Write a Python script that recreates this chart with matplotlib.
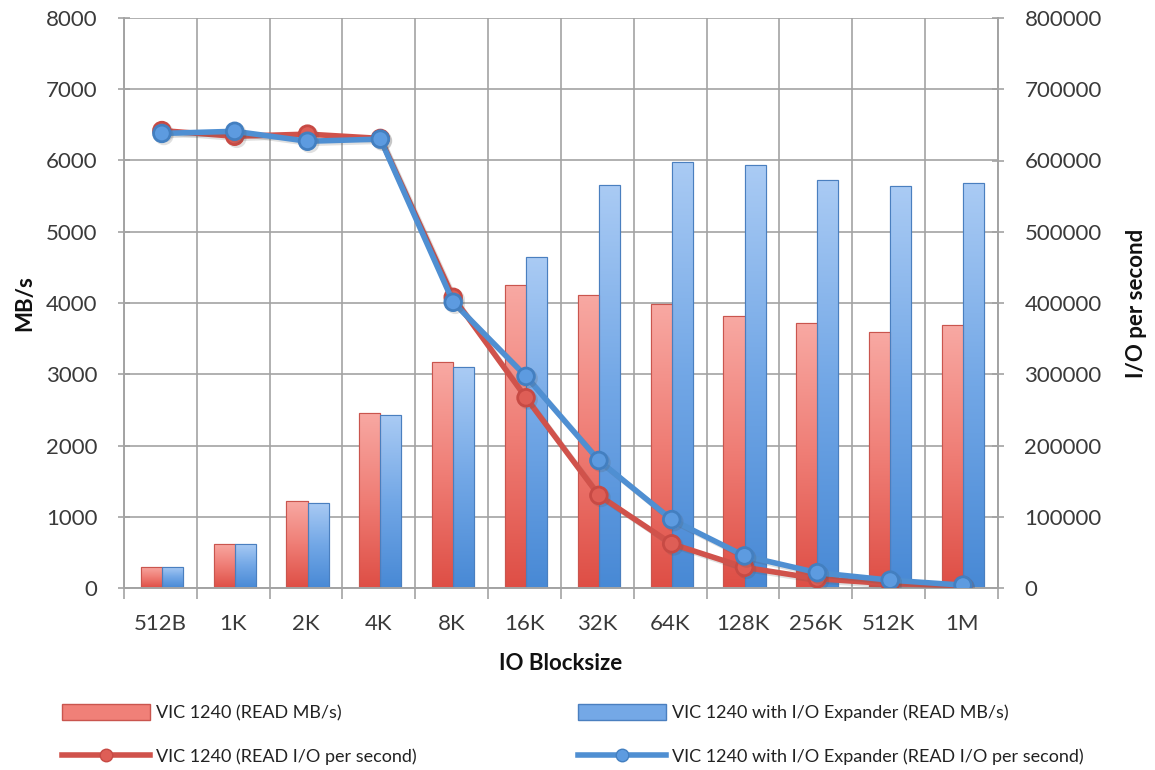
import numpy as np
import matplotlib
matplotlib.use("Agg")
import matplotlib.pyplot as plt
from matplotlib.colors import LinearSegmentedColormap
from matplotlib.lines import Line2D
from matplotlib.patches import Patch
import matplotlib.patheffects as pe

plt.rcParams['font.family'] = ['Lato', 'DejaVu Sans']

categories = ["512B", "1K", "2K", "4K", "8K", "16K", "32K", "64K", "128K", "256K", "512K", "1M"]
vic_mbs = [300, 620, 1220, 2460, 3170, 4250, 4115, 3990, 3820, 3725, 3590, 3685]
exp_mbs = [300, 620, 1200, 2435, 3095, 4645, 5660, 5985, 5935, 5730, 5640, 5680]
vic_iops = [642000, 634000, 637000, 631000, 408000, 267000, 130000, 62000, 29000, 13000, 6000, 3500]
exp_iops = [638000, 641000, 627000, 630000, 401000, 297000, 179000, 96000, 45000, 21500, 11000, 4000]

left_ticks = list(range(0, 8001, 1000))
right_ticks = list(range(0, 800001, 100000))

labels = ["VIC 1240 (READ MB/s)", "VIC 1240 with I/O Expander (READ MB/s)",
          "VIC 1240 (READ I/O per second)", "VIC 1240 with I/O Expander (READ I/O per second)"]

W, H = 1155, 770
fig = plt.figure(figsize=(W / 100, H / 100), dpi=100)
ax = fig.add_axes([124 / W, 1 - 588 / H, 874 / W, 570 / H])
ax2 = ax.twinx()

x = np.arange(len(categories))
bw = 0.29
grid_c = '#a3a3a3'
txt_c = '#3a3a3a'

red_cmap = LinearSegmentedColormap.from_list('r', ['#de4e45', '#ef7d75', '#f8a9a3'])
blue_cmap = LinearSegmentedColormap.from_list('b', ['#4889d5', '#72a7e6', '#aacbf4'])

bars_r = ax.bar(x - bw / 2 + 0.02, vic_mbs, bw, color='#ee7a72', edgecolor='#c9554e', linewidth=0.8, zorder=2)
bars_b = ax.bar(x + bw / 2 + 0.02, exp_mbs, bw, color='#6fa5e4', edgecolor='#4a7fbf', linewidth=0.8, zorder=2)

grad = np.linspace(0, 1, 256).reshape(-1, 1)
for bars, cmap in ((bars_r, red_cmap), (bars_b, blue_cmap)):
    for p in bars:
        x0, y0 = p.get_x(), p.get_y()
        w, h = p.get_width(), p.get_height()
        im = ax.imshow(grad, cmap=cmap, origin='lower', aspect='auto',
                       extent=(x0, x0 + w, y0, y0 + h), zorder=2.1)
        im.set_clip_path(p)
        ax.add_patch(plt.Rectangle((x0, y0), w, h, fill=False,
                                   edgecolor=p.get_edgecolor(), linewidth=0.8, zorder=2.2))

ax.set_xlim(-0.5, len(categories) - 0.5)
ax.set_ylim(0, 8000)
ax.set_yticks(left_ticks)
ax.set_yticklabels([str(v) for v in left_ticks])
ax.set_xticks(x)
ax.set_xticklabels(categories)
ax.set_xticks(np.arange(-0.5, len(categories), 1.0), minor=True)
ax.tick_params(axis='x', which='major', length=0, pad=19, labelsize=16, labelcolor=txt_c)
ax.tick_params(axis='x', which='minor', length=8, color=grid_c, width=1.2, direction='out')
ax.tick_params(axis='y', length=8, direction='inout', color=grid_c, width=1.2, pad=15,
               labelsize=16, labelcolor=txt_c)
ax.set_axisbelow(True)
ax.grid(True, axis='y', color=grid_c, linewidth=1.2, zorder=0)
ax.grid(True, axis='x', which='minor', color=grid_c, linewidth=1.2, zorder=0)
for s in ax.spines.values():
    s.set_color(grid_c)
    s.set_linewidth(1.2)
ax.spines['top'].set_visible(False)

ax.set_ylabel("MB/s", fontsize=16, fontweight='bold', color='#111111', ha='center', va='center')
ax.yaxis.set_label_coords(-0.113, 0.5)
ax.set_xlabel("IO Blocksize", fontsize=16, fontweight='bold', color='#111111', ha='center', va='center')
ax.xaxis.set_label_coords(0.5, -0.1316)

shadow = [pe.SimpleLineShadow(offset=(1.5, -1.5), alpha=0.18, shadow_color='#555555'), pe.Normal()]
xl = x + 0.02
ax2.plot(xl, vic_iops, color='#d0524b', linewidth=4, marker='o', markersize=12,
         markerfacecolor='#de5e56', markeredgecolor='#c74a44', markeredgewidth=2, zorder=3,
         path_effects=shadow)
ax2.plot(xl, exp_iops, color='#4f8fd2', linewidth=4, marker='o', markersize=12,
         markerfacecolor='#5d9be0', markeredgecolor='#437fc0', markeredgewidth=2, zorder=4,
         path_effects=shadow)
ax2.set_ylim(0, 800000)
ax2.set_yticks(right_ticks)
ax2.set_yticklabels([str(v) for v in right_ticks])
ax2.tick_params(axis='y', length=8, direction='inout', color=grid_c, width=1.2, pad=15,
                labelsize=16, labelcolor=txt_c)
for s in ax2.spines.values():
    s.set_color(grid_c)
    s.set_linewidth(1.2)
ax2.spines['top'].set_visible(False)
ax2.set_ylabel("I/O per second", fontsize=16, fontweight='bold', color='#111111', rotation=90,
               ha='center', va='center')
ax2.yaxis.set_label_coords(1.159, 0.5)

h_r = Patch(facecolor='#f08078', edgecolor='#c9554e')
h_b = Patch(facecolor='#74a8e6', edgecolor='#4a7fbf')
h_lr = Line2D([], [], color='#d0524b', linewidth=4, marker='o', markersize=9,
              markerfacecolor='#de5e56', markeredgecolor='#c74a44')
h_lb = Line2D([], [], color='#4f8fd2', linewidth=4, marker='o', markersize=9,
              markerfacecolor='#5d9be0', markeredgecolor='#437fc0')

common = dict(frameon=False, fontsize=13, borderpad=0, borderaxespad=0,
              handlelength=4.9, handletextpad=0.3, labelspacing=1.45, handleheight=1.0,
              loc='upper left', labelcolor='#222222')
leg1 = fig.legend([h_r, h_lr], [labels[0], labels[2]], bbox_to_anchor=(62 / W, 1 - 704 / H), **common)
leg2 = fig.legend([h_b, h_lb], [labels[1], labels[3]], bbox_to_anchor=(578 / W, 1 - 704 / H), **common)

fig.savefig("out.png", dpi=100, facecolor='white')
